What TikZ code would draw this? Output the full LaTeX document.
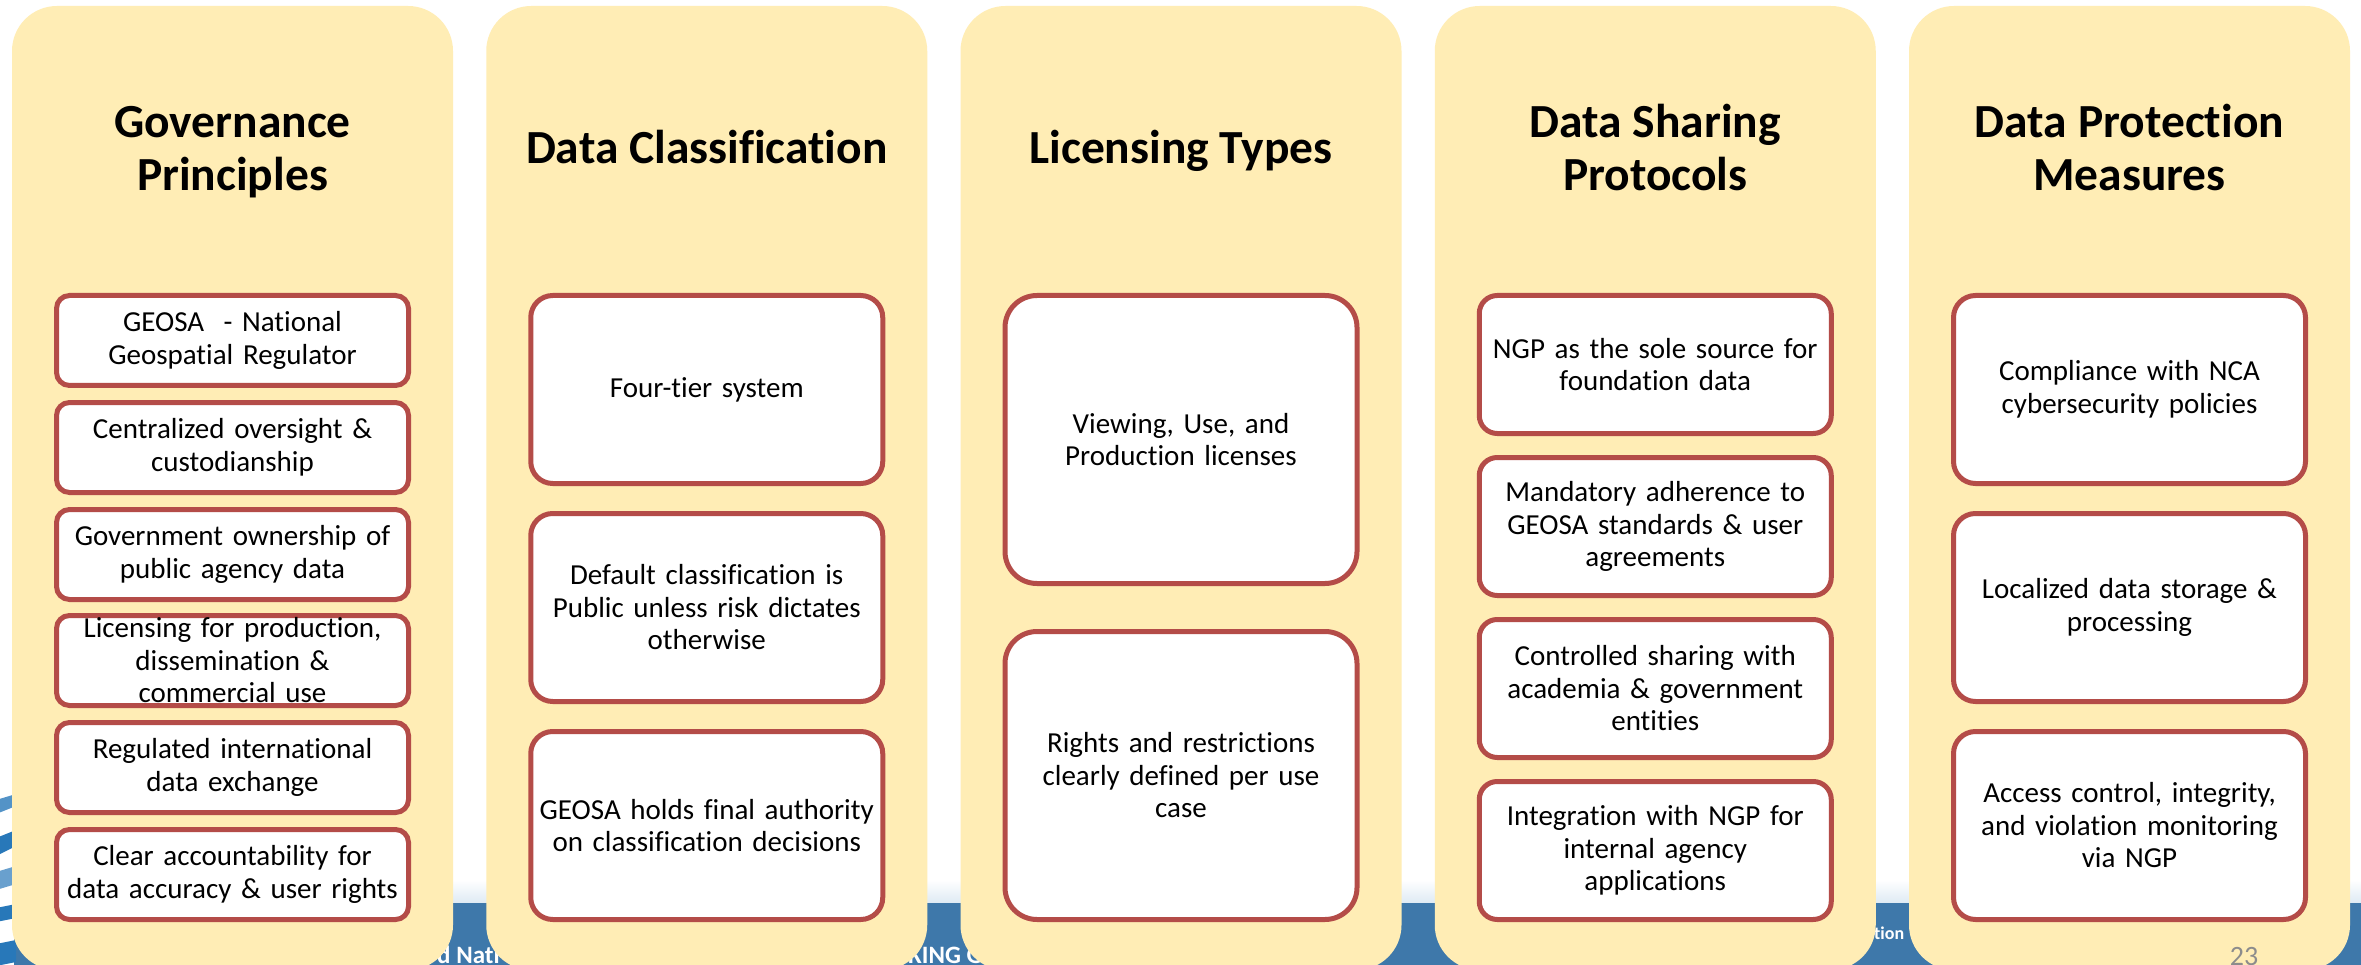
\documentclass[tikz,border=0pt]{standalone}
\usepackage{fontspec}
\setmainfont{Carlito}[Ligatures={NoCommon,NoContextual}]
\definecolor{panelY}{RGB}{255,237,181}
\definecolor{bred}{RGB}{180,76,72}
\definecolor{bandblue}{RGB}{62,120,170}
\definecolor{bandlight}{RGB}{222,234,244}
\definecolor{logoblue}{RGB}{40,120,185}
\definecolor{pagegray}{RGB}{140,140,140}
\tikzset{
  panel/.style={fill=panelY, draw=none, rounded corners=45pt, minimum width=441pt, minimum height=964pt, inner sep=0pt, outer sep=0pt},
  ttl/.style={font=\fontsize{47.5}{53}\selectfont\bfseries, align=center, anchor=base, inner sep=0pt},
  item/.style={draw=bred, line width=5pt, fill=white, minimum width=352pt, text width=346pt, align=center, inner sep=0pt, font=\fontsize{29}{32.5}\selectfont},
  itemA/.style={item, minimum height=90pt, rounded corners=13pt},
  itemB/.style={item, minimum height=188pt, rounded corners=22pt},
  itemC/.style={item, minimum height=288pt, rounded corners=32pt},
  itemD/.style={item, minimum height=138pt, rounded corners=18pt},
  foot/.style={text=white, font=\fontsize{25}{28}\selectfont\bfseries, inner sep=0pt, anchor=base west}
}
\begin{document}
\begin{tikzpicture}[x=1pt,y=-1pt]
\useasboundingbox (0,0) rectangle (2361,965);
\clip (0,0) rectangle (2361,965);
\fill[white] (0,0) rectangle (2361,965);
% footer band
\shade[top color=white, bottom color=bandlight] (0,880) rectangle (2361,903);
\fill[bandblue] (0,903) rectangle (2361,965);
% logo fragment at left edge
\fill[white] (0,770) rectangle (14,965);
\fill[logoblue!80] (-4,800) -- (16,794) -- (16,806) -- (-4,814) -- cycle;
\fill[logoblue] (-4,838) -- (16,830) -- (16,846) -- (-4,856) -- cycle;
\fill[logoblue!70] (-4,872) -- (16,866) -- (16,884) -- (-4,890) -- cycle;
\fill[logoblue] (-4,908) -- (16,904) -- (16,918) -- (-4,922) -- cycle;
\fill[logoblue] (-4,944) -- (16,940) -- (16,962) -- (-4,966) -- cycle;
% footer text fragments
\node[foot] (f1) at (437,963) {d Nati};
\node[foot] (f2) at (908,963) {KING G};
\node[foot, font=\fontsize{18}{20}\selectfont\bfseries] (f3) at (1874,939) {tion};
% panels
\node[panel] (p1) at (232.5,488) {};
\node[panel] (p2) at (706.75,488) {};
\node[panel] (p3) at (1181,488) {};
\node[panel] (p4) at (1655.25,488) {};
\node[panel] (p5) at (2129.5,488) {};
% titles (base = last line)
\node[ttl] (t1) at (232.5,191) {Governance\\Principles};
\node[ttl] (t2) at (706.75,164) {Data Classification};
\node[ttl] (t3) at (1181,164) {Licensing Types};
\node[ttl] (t4) at (1655.25,191) {Data Sharing\\Protocols};
\node[ttl] (t5) at (2129.5,191) {Data Protection\\Measures};
% panel 1
\node[itemA] (a1) at (232.5,340.5) {GEOSA\ \ - National\\Geospatial Regulator};
\node[itemA] (a2) at (232.5,447.5) {Centralized oversight \&\\custodianship};
\node[itemA] (a3) at (232.5,554.5) {Government ownership of\\public agency data};
\node[itemA] (a4) at (232.5,660.5) {Licensing for production,\\dissemination \&\\commercial use};
\node[itemA] (a5) at (232.5,767.5) {Regulated international\\data exchange};
\node[itemA] (a6) at (232.5,874.5) {Clear accountability for\\data accuracy \& user rights};
% panel 2
\node[itemB] (b1) at (706.75,389.5) {Four-tier system};
\node[itemB] (b2) at (706.75,607.5) {Default classification is\\Public unless risk dictates\\otherwise};
\node[itemB] (b3) at (706.75,825.5) {GEOSA holds final authority\\on classification decisions};
% panel 3
\node[itemC] (c1) at (1181,439.5) {Viewing, Use, and\\Production licenses};
\node[itemC] (c2) at (1181,775.5) {Rights and restrictions\\clearly defined per use\\case};
% panel 4
\node[itemD] (d1) at (1655.25,364.5) {NGP as the sole source for\\foundation data};
\node[itemD] (d2) at (1655.25,526.5) {Mandatory adherence to\\GEOSA standards \& user\\agreements};
\node[itemD] (d3) at (1655.25,688.5) {Controlled sharing with\\academia \& government\\entities};
\node[itemD] (d4) at (1655.25,850.5) {Integration with NGP for\\internal agency\\applications};
% panel 5
\node[itemB] (e1) at (2129.5,389.5) {Compliance with NCA\\cybersecurity policies};
\node[itemB] (e2) at (2129.5,607.5) {Localized data storage \&\\processing};
\node[itemB] (e3) at (2129.5,825.5) {Access control, integrity,\\and violation monitoring\\via NGP};
% page number
\node[text=pagegray, font=\fontsize{28}{30}\selectfont, anchor=base, inner sep=0pt] (pg) at (2244,965) {23};
\end{tikzpicture}
\end{document}
